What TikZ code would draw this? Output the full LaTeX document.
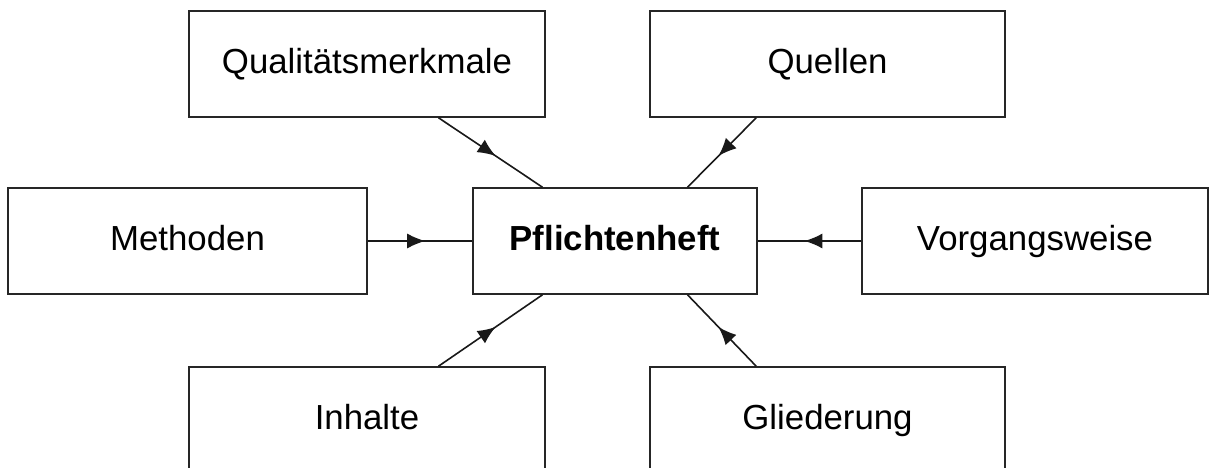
\documentclass[tikz,border=0pt]{standalone}
\usepackage{fontspec}
\setmainfont{Liberation Sans}
\usetikzlibrary{calc,arrows.meta,decorations.markings}
\begin{document}
\begin{tikzpicture}[x=1pt,y=-1pt,
  box/.style={draw=black!85, line width=1.6pt, minimum height=106pt, inner sep=0pt,
    font=\fontsize{34.8}{40}\selectfont, text height=25pt, text depth=6pt},
  conn/.style={line width=1.6pt, draw=black!90, postaction={decorate},
    decoration={markings, mark=at position 0.55 with {\arrow{Latex[length=18pt,width=15pt]}}}}]
\useasboundingbox (0,0) rectangle (1216,468);
\clip (0,0) rectangle (1216,468);
\node[box, minimum width=356pt] (q) at (367,64) {Qualitätsmerkmale};
\node[box, minimum width=355pt] (ql) at (827.5,64) {Quellen};
\node[box, minimum width=359pt] (m) at (187.5,241) {Methoden};
\node[box, minimum width=284pt, font=\fontsize{34.8}{40}\selectfont\bfseries] (p) at (615,241) {Pflichtenheft};
\node[box, minimum width=346pt] (v) at (1035,241) {Vorgangsweise};
\node[box, minimum width=356pt] (i) at (367,420) {Inhalte};
\node[box, minimum width=355pt] (g) at (827.5,420) {Gliederung};
\draw[conn] ($(q.south west)!0.70!(q.south east)$) -- ($(p.north west)!0.246!(p.north east)$);
\draw[conn] ($(ql.south west)!0.30!(ql.south east)$) -- ($(p.north west)!0.754!(p.north east)$);
\draw[conn] (m.east) -- (p.west);
\draw[conn] (v.west) -- (p.east);
\draw[conn] ($(i.north west)!0.70!(i.north east)$) -- ($(p.south west)!0.246!(p.south east)$);
\draw[conn] ($(g.north west)!0.30!(g.north east)$) -- ($(p.south west)!0.754!(p.south east)$);
\end{tikzpicture}
\end{document}
